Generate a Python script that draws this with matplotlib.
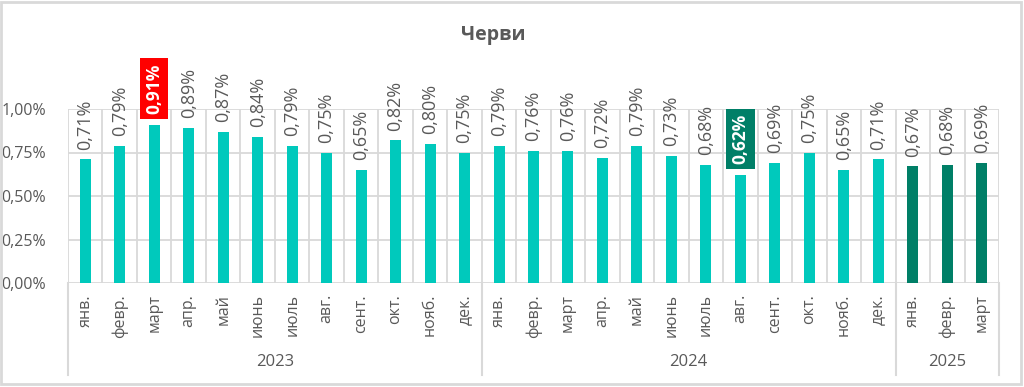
import matplotlib
matplotlib.use("Agg")
import matplotlib.pyplot as plt
from matplotlib.patches import Rectangle
import matplotlib.transforms as mtransforms

plt.rcParams['font.family'] = ['Open Sans', 'DejaVu Sans']

title = "Черви"
months = ["янв.", "февр.", "март", "апр.", "май", "июнь", "июль", "авг.", "сент.", "окт.", "нояб.", "дек.",
          "янв.", "февр.", "март", "апр.", "май", "июнь", "июль", "авг.", "сент.", "окт.", "нояб.", "дек.",
          "янв.", "февр.", "март"]
years = ["2023", "2024", "2025"]
year_counts = [12, 12, 3]
values = [0.71, 0.79, 0.91, 0.89, 0.87, 0.84, 0.79, 0.75, 0.65, 0.82, 0.80, 0.75,
          0.79, 0.76, 0.76, 0.72, 0.79, 0.73, 0.68, 0.62, 0.69, 0.75, 0.65, 0.71,
          0.67, 0.68, 0.69]
yticks = [0.0, 0.25, 0.5, 0.75, 1.0]

TEAL = "#00C9BC"
DARK = "#007F67"
RED = "#FF0000"
GRID = "#D9D9D9"
TXT = "#595959"

fig = plt.figure(figsize=(10.24, 3.87), dpi=100)
ax = fig.add_axes([68/1024, 1-283/387, (999-68)/1024, 174/387])

n = len(values)
x = list(range(n))
colors = [TEAL]*24 + [DARK]*3
ax.bar(x, values, width=0.32, color=colors, zorder=3)

ax.set_xlim(-0.5, n-0.5)
ax.set_ylim(0, 1.0)
ax.set_yticks(yticks)
ax.set_yticklabels([f"{v:.2f}%".replace('.', ',') for v in yticks], fontsize=11.5, color=TXT)
ax.set_xticks(x)
ax.set_xticklabels(months, rotation=90, fontsize=11.5, color=TXT)
ax.tick_params(axis='both', length=0)
ax.tick_params(axis='x', pad=8)
ax.tick_params(axis='y', pad=16)
for s in ax.spines.values():
    s.set_visible(False)

# gridlines
for yv in yticks:
    ax.axhline(yv, color=GRID, lw=1.3, zorder=1)
for k in range(n+1):
    ax.axvline(k-0.5, color=GRID, lw=1.3, zorder=1)

# year separators below axis
trans = mtransforms.blended_transform_factory(ax.transData, ax.transAxes)
bounds = [0]
for c in year_counts:
    bounds.append(bounds[-1]+c)
for b in bounds:
    ax.plot([b-0.5, b-0.5], [0, -0.53], transform=trans, color=GRID, lw=1.5, clip_on=False)
for i, yr in enumerate(years):
    cx = (bounds[i] + bounds[i+1] - 1) / 2
    ax.text(cx, -0.455, yr, transform=trans, ha='center', va='center', fontsize=12, color=TXT)

# value labels
imax = values.index(max(values))
imin = values.index(min(values))
for i, v in enumerate(values):
    lab = f"{v:.2f}%".replace('.', ',')
    if i == imax or i == imin:
        fc = RED if i == imax else DARK
        ax.annotate(lab, (i, v), xytext=(0, 8), textcoords='offset points', rotation=90,
                    ha='center', va='bottom', fontsize=12.5, color='white', fontweight='bold',
                    bbox=dict(boxstyle='square,pad=0.3', fc=fc, ec='none'), annotation_clip=False, zorder=5)
    else:
        ax.annotate(lab, (i, v), xytext=(0, 7), textcoords='offset points', rotation=90,
                    ha='center', va='bottom', fontsize=13, color=TXT, annotation_clip=False, zorder=5)

fig.text(493/1024, 1-35/387, title, ha='center', va='center', fontsize=14, fontweight='bold', color=TXT)

fig.patches.append(Rectangle((1/1024, 3/387), 1020/1024, 382/387, transform=fig.transFigure,
                             fill=False, ec=GRID, lw=2))

fig.savefig("out.png", dpi=100)
